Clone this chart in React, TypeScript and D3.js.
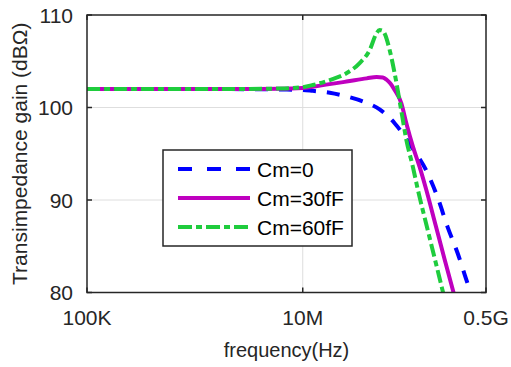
import React, { useEffect, useRef } from "react";
import * as d3 from "d3";

// frequencies in MHz, gains in dB(ohm)
const freqCm0 = [0.1, 1, 3, 6.12, 10, 12.4, 17.8, 25.4, 39.2, 51.6, 71.1, 101.5, 143.6, 177.8, 220, 272, 337, 417];
const gainCm0 = [102, 102, 101.98, 101.95, 101.9, 101.8, 101.6, 101.2, 100.5, 99.8, 98.3, 95.8, 92.9, 90.3, 87.1, 84.3, 81.0, 78];

const freqCm30 = [0.1, 1, 3, 6.12, 10, 12.4, 25.4, 39.2, 48.4, 55.2, 60, 65, 71.1, 82.1, 91.3, 104.9, 121, 139.7, 170.4, 206.5, 250, 270];
const gainCm30 = [102, 102, 102.01, 102.02, 102.1, 102.25, 102.8, 103.15, 103.3, 103.25, 103.0, 102.6, 101.9, 100.45, 98.3, 95.8, 93.6, 91.1, 87.3, 83.6, 80, 78.5];

const freqCm60 = [0.1, 1, 3, 6.12, 10, 12.4, 17.8, 25.4, 33.7, 41.7, 48.2, 51.6, 55.2, 57.4, 64, 71.1, 82.1, 91.3, 104.9, 116.8, 140.3, 168, 199, 215];
const gainCm60 = [102, 102, 102.01, 102.05, 102.2, 102.43, 102.97, 103.7, 104.8, 106.2, 108.0, 108.38, 108.3, 108.0, 106.2, 103.7, 99.6, 96.5, 93.6, 91.1, 87.3, 83.6, 80.1, 78.5];

const seriesNames = ["Cm=0", "Cm=30fF", "Cm=60fF"];
const yTicks = [80, 90, 100, 110];
const xTicks = [1e5, 1e7, 5e8];
const xTickLabels = ["100K", "10M", "0.5G"];

const Chart = () => {
  const ref = useRef<SVGSVGElement>(null);

  useEffect(() => {
    const svg = d3.select(ref.current);
    svg.selectAll("*").remove();

    const left = 87, right = 486, top = 15, bottom = 292.5;
    const font = "'Liberation Sans', Arial, sans-serif";
    const ink = "#262626";

    const x = d3.scaleLog().domain([1e5, 5e8]).range([left, right]);
    const y = d3.scaleLinear().domain([80, 110]).range([bottom, top]);

    // grid
    svg.append("g")
      .selectAll("line")
      .data(yTicks.slice(1, -1))
      .join("line")
      .attr("x1", left).attr("x2", right)
      .attr("y1", (d) => y(d)).attr("y2", (d) => y(d))
      .attr("stroke", "#dedede").attr("stroke-width", 1);
    svg.append("line")
      .attr("x1", x(1e7)).attr("x2", x(1e7))
      .attr("y1", top).attr("y2", bottom)
      .attr("stroke", "#dedede").attr("stroke-width", 1);

    // curves
    svg.append("clipPath").attr("id", "plotclip")
      .append("rect")
      .attr("x", left).attr("y", top)
      .attr("width", right - left).attr("height", bottom - top);

    const series = [
      { f: freqCm0, g: gainCm0, color: "#0000ff", dash: "13,11", legendDash: "14,15" },
      { f: freqCm30, g: gainCm30, color: "#bf00bf", dash: null, legendDash: null },
      { f: freqCm60, g: gainCm60, color: "#1fcc3d", dash: "13,4,6,4", legendDash: "14,4,6,4" },
    ];

    const line = d3.line<[number, number]>()
      .x((d) => x(d[0] * 1e6))
      .y((d) => y(d[1]))
      .curve(d3.curveMonotoneX);

    const plot = svg.append("g").attr("clip-path", "url(#plotclip)");
    series.forEach((s) => {
      plot.append("path")
        .datum(s.f.map((f, i) => [f, s.g[i]] as [number, number]))
        .attr("d", line)
        .attr("fill", "none")
        .attr("stroke", s.color)
        .attr("stroke-width", 4)
        .attr("stroke-dasharray", s.dash);
    });

    // box + ticks
    svg.append("rect")
      .attr("x", left).attr("y", top)
      .attr("width", right - left).attr("height", bottom - top)
      .attr("fill", "none").attr("stroke", ink).attr("stroke-width", 1.5);

    const tickLen = 5;
    yTicks.forEach((t) => {
      svg.append("line").attr("x1", left).attr("x2", left + tickLen)
        .attr("y1", y(t)).attr("y2", y(t)).attr("stroke", ink).attr("stroke-width", 1.5);
      svg.append("line").attr("x1", right).attr("x2", right - tickLen)
        .attr("y1", y(t)).attr("y2", y(t)).attr("stroke", ink).attr("stroke-width", 1.5);
      svg.append("text")
        .attr("x", left - 14).attr("y", y(t))
        .attr("text-anchor", "end").attr("dominant-baseline", "central")
        .attr("font-family", font).attr("font-size", 21).attr("fill", ink)
        .text(t);
    });
    xTicks.forEach((t, i) => {
      svg.append("line").attr("x1", x(t)).attr("x2", x(t))
        .attr("y1", bottom).attr("y2", bottom - tickLen).attr("stroke", ink).attr("stroke-width", 1.5);
      svg.append("line").attr("x1", x(t)).attr("x2", x(t))
        .attr("y1", top).attr("y2", top + tickLen).attr("stroke", ink).attr("stroke-width", 1.5);
      svg.append("text")
        .attr("x", x(t)).attr("y", 325)
        .attr("text-anchor", "middle")
        .attr("font-family", font).attr("font-size", 21).attr("fill", ink)
        .text(xTickLabels[i]);
    });

    // axis titles
    svg.append("text")
      .attr("x", (left + right) / 2).attr("y", 357)
      .attr("text-anchor", "middle")
      .attr("font-family", font).attr("font-size", 20).attr("fill", ink)
      .text("frequency(Hz)");
    svg.append("text")
      .attr("transform", `translate(27,${(top + bottom) / 2}) rotate(-90)`)
      .attr("text-anchor", "middle")
      .attr("font-family", font).attr("font-size", 21).attr("fill", ink)
      .text("Transimpedance gain (dBΩ)");

    // legend
    const lg = svg.append("g");
    lg.append("rect")
      .attr("x", 163).attr("y", 150).attr("width", 189).attr("height", 96)
      .attr("fill", "white").attr("stroke", ink).attr("stroke-width", 1.5);
    series.forEach((s, i) => {
      const ly = 169 + i * 29;
      lg.append("line")
        .attr("x1", 178).attr("x2", 250).attr("y1", ly).attr("y2", ly)
        .attr("stroke", s.color).attr("stroke-width", 4)
        .attr("stroke-dasharray", s.legendDash);
      lg.append("text")
        .attr("x", 257).attr("y", ly)
        .attr("dominant-baseline", "central")
        .attr("font-family", font).attr("font-size", 21).attr("fill", "#000")
        .text(seriesNames[i]);
    });
  }, []);

  return (
    <svg ref={ref} width={511} height={367}
      style={{ position: "absolute", left: 0, top: 0, background: "white" }} />
  );
};

export default function App() {
  return <Chart />;
}
